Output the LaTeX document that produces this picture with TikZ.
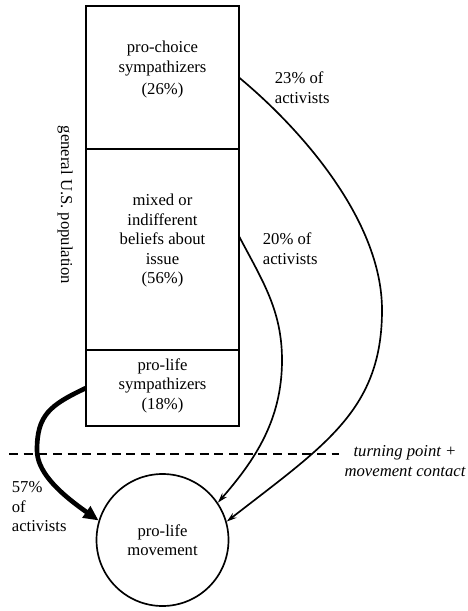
\documentclass[tikz,border=0pt]{standalone}
\usepackage{fontspec}
\setmainfont{Liberation Serif}
\usetikzlibrary{arrows.meta}
\tikzset{
  popbox/.style={draw, line width=1.1pt, outer sep=0pt, minimum width=91.8pt, align=center},
  flow/.style={line width=1pt, -{Stealth[length=6pt,width=3.6pt]}},
  bigflow/.style={line width=2.8pt, -{Triangle[length=9pt,width=8pt]}},
  share/.style={align=left, anchor=west}
}
\begin{document}
\begin{tikzpicture}[x=0.6pt, y=-0.6pt, font=\fontsize{10}{11.7}\selectfont]
        \useasboundingbox (0,0) rectangle (468,611);
        % population column
        \node[popbox, minimum height=85.8pt, text depth=11.5pt] (prochoice) at (162.5, 77.5) {pro-choice\\sympathizers\\[1.5pt](26\%)};
        \node[popbox, minimum height=120.6pt, text depth=12.5pt] (mixed) at (162.5, 249.5) {mixed or\\indifferent\\beliefs about\\issue\\(56\%)};
        \node[popbox, minimum height=45.6pt, text depth=5pt] (prolife) at (162.5, 388) {pro-life\\sympathizers\\(18\%)};
        \node[rotate=-90] (population) at (65, 205) {general U.S. population};
        \node[draw, circle, line width=1pt, minimum size=79.2pt, align=center] (movement) at (162.5, 540) {pro-life\\movement};
        % turning point
        \coordinate (tpleft) at (9, 454);
        \node[align=center, font=\fontsize{10}{11.7}\selectfont\itshape] (turning) at (405, 461) {turning point +\\movement contact};
        \draw[line width=1pt, dash pattern=on 5.4pt off 3.4pt] (tpleft) -- (tpleft -| turning.west);
        % flows
        \draw[flow] (prochoice.east) .. controls (300,128) and (382,220) .. (382,310) .. controls (382,410) and (325,445) .. (movement.16);
        \draw[flow] ([yshift=8pt]mixed.east) .. controls (262,280) and (282,310) .. (282,360) .. controls (282,420) and (255,460) .. (movement.34);
        \draw[bigflow] (prolife.west) .. controls (50,405) and (37,415) .. (37,450) .. controls (37,470) and (55,490) .. (movement.163);
        \node[share] (choiceshare) at (269, 87.5) {23\% of\\activists};
        \node[share] (mixedshare) at (257, 248.5) {20\% of\\activists};
        \node[share] (lifeshare) at (6, 507) {57\%\\of\\activists};
    \end{tikzpicture}
\end{document}
